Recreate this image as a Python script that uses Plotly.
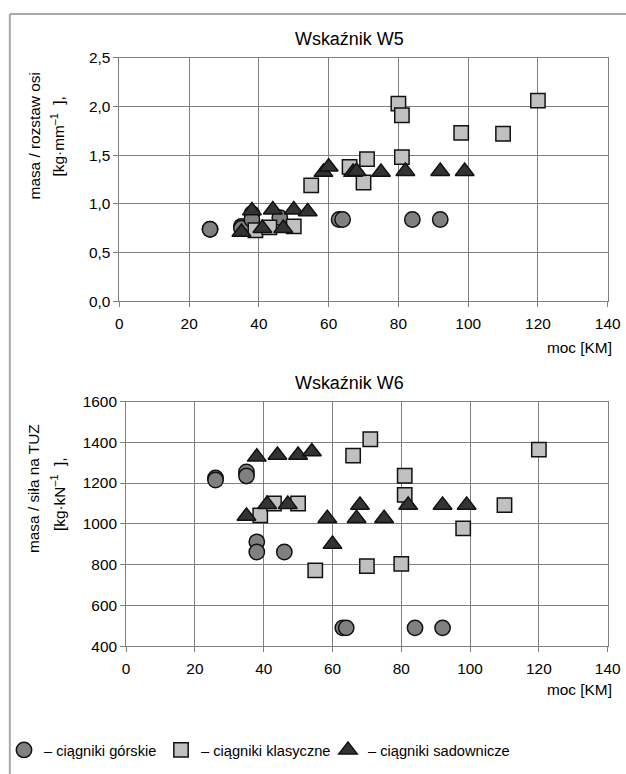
import plotly.graph_objects as go

# ---------------- data ----------------
x_ticks = [0, 20, 40, 60, 80, 100, 120, 140]
w5_ticks = [0.0, 0.5, 1.0, 1.5, 2.0, 2.5]
w5_ticktext = ["0,0", "0,5", "1,0", "1,5", "2,0", "2,5"]
w6_ticks = [400, 600, 800, 1000, 1200, 1400, 1600]
w6_ticktext = ["400", "600", "800", "1000", "1200", "1400", "1600"]

gorskie_moc = [26, 26, 35, 35, 38, 38, 46, 63, 64, 84, 92]
gorskie_w5 = [0.74, 0.74, 0.77, 0.75, 0.90, 0.84, 0.86, 0.84, 0.84, 0.84, 0.84]
gorskie_w6 = [1225, 1215, 1255, 1235, 912, 862, 862, 490, 490, 490, 490]

klasyczne_moc = [39, 43, 50, 55, 66, 70, 71, 80, 81, 81, 98, 110, 120]
klasyczne_w5 = [0.73, 0.76, 0.77, 1.19, 1.38, 1.22, 1.46, 2.03, 1.91, 1.48, 1.73, 1.72, 2.06]
klasyczne_w6 = [1042, 1100, 1100, 772, 1335, 793, 1415, 804, 1236, 1142, 978, 1092, 1364]

sadownicze_moc = [35, 38, 41, 44, 47, 50, 54, 58.5, 60, 67, 68, 75, 82, 92, 99]
sadownicze_w5 = [0.71, 0.93, 0.75, 0.94, 0.75, 0.94, 0.92, 1.325, 1.38, 1.325, 1.335, 1.325, 1.335, 1.335, 1.335]
sadownicze_w6 = [1038, 1328, 1096, 1337, 1096, 1337, 1354, 1027, 900, 1027, 1092, 1027, 1092, 1092, 1092]

names = ["– ciągniki górskie", "– ciągniki klasyczne", "– ciągniki sadownicze"]

# ---------------- layout helpers ----------------
W, H = 644, 793          # figure size
KX, OX = 0.973, 4.0      # observed screen mapping of the page
KY, OY = 0.977, 8.8
K = (KX + KY) / 2
FONT = "Liberation Sans, Arial, sans-serif"
GRID = "#808080"

def px_x(s):
    return ((s - OX) / KX) / W

def px_y(s):
    return 1 - ((s - OY) / KY) / H

def fs(v):
    return v / K

styles = [
    dict(symbol="circle", size=fs(15), color="#808080", lw=112.0),
    dict(symbol="square", size=fs(14), color="#c0c0c0", lw=122.0),
    dict(symbol="triangle-up", size=fs(16), color="#333333", lw=None),
]

fig = go.Figure()

series = [
    (gorskie_moc, gorskie_w5, gorskie_w6),
    (klasyczne_moc, klasyczne_w5, klasyczne_w6),
    (sadownicze_moc, sadownicze_w5, sadownicze_w6),
]

for i, (moc, w5, w6) in enumerate(series):
    st = styles[i]
    mk = dict(symbol=st["symbol"], size=st["size"], color=st["color"],
              line=dict(color="#111111", width=1.5))
    fig.add_trace(go.Scatter(x=moc, y=w5, mode="markers", marker=mk,
                             name=names[i], legendgroup=str(i),
                             legendwidth=st["lw"],
                             xaxis="x", yaxis="y", showlegend=True))
    fig.add_trace(go.Scatter(x=moc, y=w6, mode="markers", marker=mk,
                             name=names[i], legendgroup=str(i),
                             xaxis="x2", yaxis="y2", showlegend=False))

axis_common = dict(showgrid=True, gridcolor=GRID, gridwidth=1,
                   showline=True, linecolor=GRID, linewidth=1, mirror=True,
                   ticks="outside", ticklen=5, tickcolor=GRID,
                   tickfont=dict(family=FONT, size=fs(15), color="#000000"),
                   zeroline=False, fixedrange=True)

fig.update_layout(
    width=W, height=H, autosize=False,
    margin=dict(l=0, r=0, t=0, b=0),
    paper_bgcolor="white", plot_bgcolor="white",
    font=dict(family=FONT, size=fs(15), color="#000000"),
    xaxis=dict(domain=[px_x(119.3), px_x(607.3)], range=[0, 140],
               tickvals=x_ticks, anchor="y", ticklabelstandoff=3, **axis_common),
    yaxis=dict(domain=[px_y(300.7), px_y(57.5)], range=[0, 2.5],
               tickvals=w5_ticks, ticktext=w5_ticktext, anchor="x", **axis_common),
    xaxis2=dict(domain=[px_x(126), px_x(607.3)], range=[0, 140],
                tickvals=x_ticks, anchor="y2", ticklabelstandoff=3, **axis_common),
    yaxis2=dict(domain=[px_y(645), px_y(400.7)], range=[400, 1600],
                tickvals=w6_ticks, ticktext=w6_ticktext, anchor="x2", **axis_common),
    showlegend=True,
    legend=dict(orientation="h", x=0.0, xanchor="left", y=px_y(749),
                yanchor="middle", font=dict(family=FONT, size=fs(14.3), color="#000000"),
                bgcolor="rgba(0,0,0,0)", itemsizing="trace", tracegroupgap=0),
)

ann = []
def txt(text, x, y, size=15, angle=0, xanchor="center"):
    ann.append(dict(text=text, x=px_x(x), y=px_y(y), xref="paper", yref="paper",
                    showarrow=False, textangle=angle, xanchor=xanchor, yanchor="middle",
                    font=dict(family=FONT, size=fs(size), color="#000000")))

txt("Wskaźnik W5", 349, 39, size=17.5)
txt("Wskaźnik W6", 349, 382, size=17.5)
txt("moc [KM]", 614, 347, xanchor="right")
txt("moc [KM]", 614, 688, xanchor="right")
txt("masa / rozstaw osi", 34, 136, angle=-90)
txt("[kg·mm<sup>–1</sup>\u00a0\u00a0],", 57, 136, angle=-90)
txt("masa / siła na TUZ", 34, 488, angle=-90)
txt("[kg·kN<sup>–1</sup>\u00a0\u00a0],", 58, 494, angle=-90)
fig.update_layout(annotations=ann)

# outer chart frame (top and left edges visible), given in figure pixels
FX, FY = 6.0, 5.0
fig.update_layout(shapes=[
    dict(type="line", xref="paper", yref="paper", x0=FX / W, x1=1.0,
         y0=1 - FY / H, y1=1 - FY / H, line=dict(color="#a8a8a8", width=2)),
    dict(type="line", xref="paper", yref="paper", x0=FX / W, x1=FX / W,
         y0=1 - FY / H, y1=0.0, line=dict(color="#a8a8a8", width=2)),
])

post = ("document.body.style.margin='0';document.body.style.padding='0';"
        "document.body.style.overflow='hidden';"
        "var gd=document.getElementById('{plot_id}');"
        "gd.style.position='absolute';gd.style.left='0px';gd.style.top='0px';")

fig.write_html("out.html", post_script=post, config={"displayModeBar": False})
